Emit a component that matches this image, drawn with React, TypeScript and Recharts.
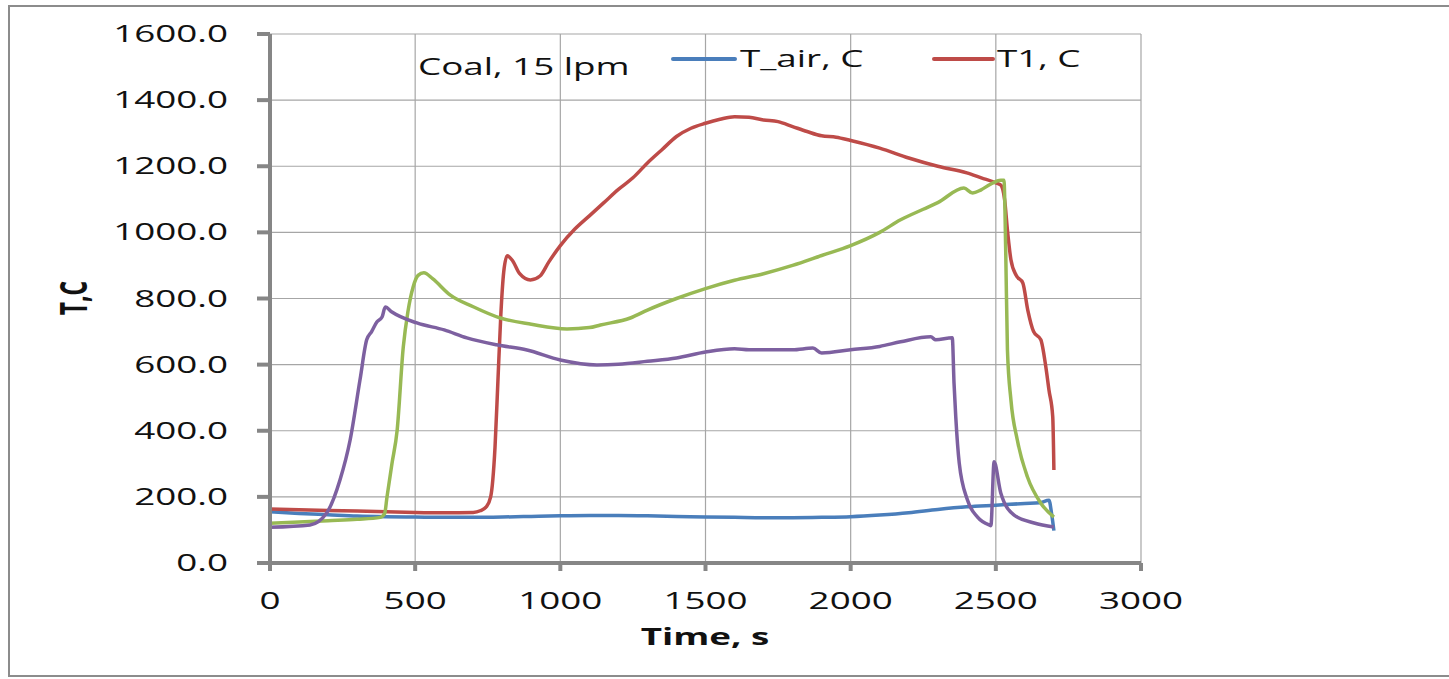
import React from 'react';
import { LineChart, Line, XAxis, YAxis, CartesianGrid } from 'recharts';

// Time axis values (s) and temperatures (C)
const airTime = [0, 100, 200, 300, 400, 500, 600, 700, 800, 900, 1000, 1100, 1200, 1300, 1400, 1500, 1600, 1700, 1800, 1900, 2000, 2100, 2200, 2300, 2400, 2500, 2600, 2650, 2683, 2692, 2700];
const airTemp = [155, 150, 146, 142, 140, 139, 138, 138, 139, 141, 143, 144, 144, 143, 141, 139, 138, 137, 137, 138, 140, 145, 152, 162, 170, 175, 180, 182, 190, 150, 98];

const t1Time = [0, 100, 200, 300, 400, 500, 600, 700, 724, 745, 760, 775, 785, 795, 805, 817, 835, 860, 897, 930, 960, 1000, 1050, 1100, 1150, 1200, 1250, 1300, 1350, 1400, 1450, 1500, 1550, 1600, 1650, 1700, 1750, 1800, 1850, 1900, 1950, 2000, 2100, 2200, 2300, 2400, 2450, 2500, 2517, 2530, 2541, 2552, 2570, 2593, 2610, 2630, 2655, 2672, 2683, 2696, 2700];
const t1Temp = [163, 161, 159, 157, 155, 153, 152, 153, 158, 170, 200, 350, 550, 750, 880, 929, 915, 875, 856, 868, 910, 960, 1010, 1050, 1090, 1130, 1165, 1210, 1250, 1290, 1315, 1330, 1342, 1350, 1348, 1340, 1335, 1320, 1305, 1292, 1288, 1278, 1255, 1225, 1200, 1180, 1165, 1150, 1143, 1100, 998, 917, 870, 847, 765, 700, 675, 594, 523, 442, 281];

const t2Time = [0, 100, 200, 300, 380, 395, 403, 420, 438, 459, 475, 493, 510, 530, 560, 620, 700, 793, 900, 1023, 1100, 1138, 1241, 1300, 1400, 1500, 1600, 1700, 1800, 1900, 2000, 2100, 2172, 2250, 2300, 2390, 2420, 2448, 2480, 2517, 2528, 2534, 2540, 2552, 2574, 2609, 2655, 2700];
const t2Temp = [120, 124, 128, 132, 138, 150, 200, 300, 402, 653, 760, 835, 870, 878, 860, 811, 775, 741, 722, 708, 712, 720, 741, 765, 800, 830, 855, 875, 900, 930, 960, 1000, 1038, 1070, 1090, 1134, 1119, 1128, 1145, 1158, 1158, 947, 644, 493, 372, 260, 181, 139];

const t3Time = [0, 138, 195, 241, 276, 310, 333, 350, 368, 386, 397, 420, 506, 600, 678, 780, 885, 1000, 1126, 1200, 1300, 1400, 1500, 1600, 1650, 1700, 1800, 1870, 1900, 2000, 2100, 2172, 2276, 2293, 2350, 2356, 2362, 2374, 2402, 2437, 2477, 2483, 2494, 2517, 2563, 2632, 2700];
const t3Temp = [108, 115, 151, 251, 372, 554, 675, 700, 729, 744, 774, 759, 726, 705, 681, 660, 644, 614, 599, 601, 610, 620, 638, 648, 645, 645, 645, 650, 635, 645, 655, 669, 684, 675, 681, 544, 442, 302, 191, 139, 115, 113, 306, 212, 145, 121, 109];

const xTicks = [0, 500, 1000, 1500, 2000, 2500, 3000];
const yTicks = [0, 200, 400, 600, 800, 1000, 1200, 1400, 1600];

const zip = (ts: number[], vs: number[]) => ts.map((t, i) => ({ t, v: vs[i] }));

const FONT = '"Open Sans", "Liberation Sans", sans-serif';
const STRETCH = 1.6;

const YTick = (props: any) => {
  const { x, y, payload } = props;
  return (
    <text transform={`translate(${x - 27},${y + 8}) scale(${STRETCH},1)`} textAnchor="end" fontFamily={FONT} fontSize={23} fill="#111">
      {payload.value.toFixed(1)}
    </text>
  );
};

const XTick = (props: any) => {
  const { x, y, payload } = props;
  return (
    <text transform={`translate(${x},${y + 36}) scale(${STRETCH},1)`} textAnchor="middle" fontFamily={FONT} fontSize={23} fill="#111">
      {payload.value}
    </text>
  );
};

export default function App() {
  return (
    <div style={{ position: 'absolute', left: 0, top: 0, width: 1449, height: 679, background: '#fff', overflow: 'hidden' }}>
      <div style={{ position: 'absolute', left: 0, top: 0 }}>
        <LineChart width={1449} height={679} margin={{ top: 34, right: 308, bottom: 0, left: 0 }}>
          <CartesianGrid stroke="#a6a6a6" strokeWidth={1.2} />
          <XAxis
            type="number"
            dataKey="t"
            domain={[0, 3000]}
            ticks={xTicks}
            height={116}
            tickSize={8}
            axisLine={{ stroke: '#868686', strokeWidth: 4 }}
            tickLine={{ stroke: '#868686', strokeWidth: 4 }}
            tick={<XTick />}
            allowDataOverflow
          />
          <YAxis
            type="number"
            domain={[0, 1600]}
            ticks={yTicks}
            width={270}
            tickSize={13}
            axisLine={{ stroke: '#868686', strokeWidth: 4 }}
            tickLine={{ stroke: '#868686', strokeWidth: 4 }}
            tick={<YTick />}
            interval={0}
          />
          <Line data={zip(airTime, airTemp)} dataKey="v" name="T_air, C" stroke="#4a7ebb" strokeWidth={3.5} dot={false} isAnimationActive={false} type="monotone" />
          <Line data={zip(t1Time, t1Temp)} dataKey="v" name="T1, C" stroke="#be4b48" strokeWidth={3.5} dot={false} isAnimationActive={false} type="monotone" />
          <Line data={zip(t2Time, t2Temp)} dataKey="v" name="T2, C" stroke="#98b954" strokeWidth={3.5} dot={false} isAnimationActive={false} type="monotone" />
          <Line data={zip(t3Time, t3Temp)} dataKey="v" name="T3, C" stroke="#7d60a0" strokeWidth={3.5} dot={false} isAnimationActive={false} type="monotone" />
        </LineChart>
      </div>
      <svg width={1449} height={679} style={{ position: 'absolute', left: 0, top: 0, pointerEvents: 'none' }}>
        <path d="M1449,6 H9 V676 H1449" fill="none" stroke="#8c8c8c" strokeWidth={2} />
        <text transform={`translate(418,75) scale(${STRETCH},1)`} fontFamily={FONT} fontSize={23} fill="#111">Coal, 15 lpm</text>
        <line x1={673} y1={59} x2={735} y2={59} stroke="#4a7ebb" strokeWidth={4} strokeLinecap="round" />
        <text transform={`translate(740,67) scale(${STRETCH},1)`} fontFamily={FONT} fontSize={23} fill="#111">T_air, C</text>
        <line x1={934} y1={59} x2={993} y2={59} stroke="#be4b48" strokeWidth={4} strokeLinecap="round" />
        <text transform={`translate(997,67) scale(${STRETCH},1)`} fontFamily={FONT} fontSize={23} fill="#111">T1, C</text>
        <text transform={`translate(705,645) scale(${STRETCH},1)`} textAnchor="middle" fontFamily={FONT} fontWeight="bold" fontSize={23} fill="#111">Time, s</text>
        <text transform={`translate(87,298) scale(${STRETCH},1) rotate(-90)`} textAnchor="middle" fontFamily={FONT} fontWeight="bold" fontSize={23} fill="#111">T,C</text>
      </svg>
    </div>
  );
}
